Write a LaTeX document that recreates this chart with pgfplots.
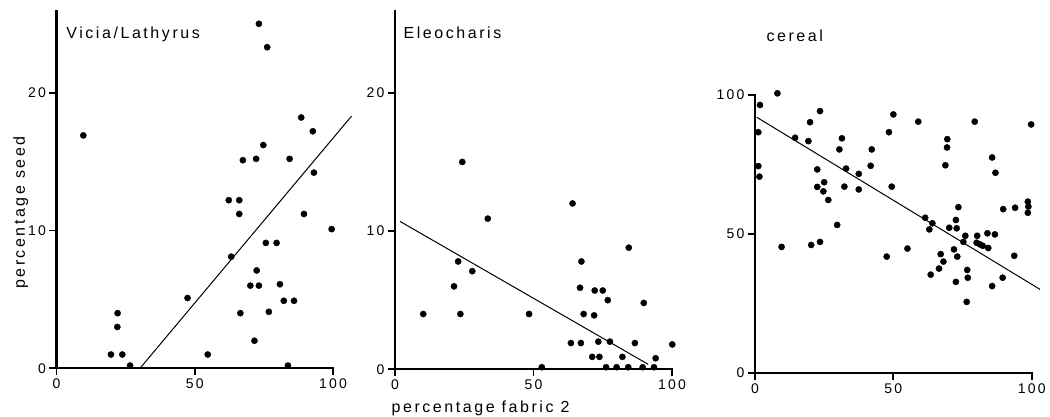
\documentclass[border=0pt]{standalone}
\usepackage{fontspec}
\setmainfont{Liberation Sans}[LetterSpace=16]
\usepackage{pgfplots}
\pgfplotsset{compat=1.18}
\tikzset{axframe/.style={black, line width=2.2pt, line cap=rect}}
\begin{document}
\begin{tikzpicture}
\useasboundingbox (0,0) rectangle (1050pt,417pt);
\pgfplotsset{
  myaxis/.style={
    scale only axis, axis lines=left,
    axis line style={-, line width=2pt, black},
    xmin=0, xmax=100, ymin=0, xtick={0,50,100},
    tick align=outside, major tick length=7pt,
    major tick style={black, line width=1.8pt},
    ticklabel style={font=\fontsize{14}{16}\selectfont},
    /pgf/number format/assume math mode=true,
    clip=false, anchor=south west,
  },
  dots/.style={only marks, mark=*, mark size=3.1pt, black, mark options={fill=black, draw=black}},
  fit/.style={black, line width=1pt},
}
% ---------- Vicia/Lathyrus ----------
\begin{axis}[myaxis, at={(56.5pt,48.7pt)}, width=276.5pt, height=356.9pt, ymax=25.9, ytick={0,10,20}]
\draw[axframe] (rel axis cs:0,1) -- (rel axis cs:0,0) -- (rel axis cs:1,0);
\addplot[dots] table {
x y
9.7 16.9
73.2 25.0
76.2 23.3
88.5 18.2
92.7 17.2
74.8 16.2
67.4 15.1
72.2 15.2
84.3 15.2
93.1 14.2
62.3 12.2
66.1 12.2
66.1 11.2
89.5 11.2
99.5 10.1
63.2 8.1
75.7 9.1
79.6 9.1
72.4 7.1
70.1 6.0
73.2 6.0
80.8 6.1
82.2 4.9
85.9 4.9
66.5 4.0
76.8 4.1
71.6 2.0
47.4 5.1
54.7 1.0
22.1 4.0
22.0 3.0
19.7 1.0
23.8 1.0
26.6 0.2
83.7 0.2
};
\addplot[fit] coordinates {(30.2,0) (106.7,18.3)};
\node[anchor=base west, font=\fontsize{16}{18}\selectfont] at (axis cs:2.3,23.9) {Vicia/Lathyrus};
\node[rotate=90, anchor=base, font=\fontsize{16}{18}\selectfont] at (axis cs:-11.4,11.3) {percentage seed};
\end{axis}
% ---------- Eleocharis ----------
\begin{axis}[myaxis, at={(395pt,47.7pt)}, width=277pt, height=358pt, ymax=25.9, ytick={0,10,20}]
\draw[axframe] (rel axis cs:0,1) -- (rel axis cs:0,0) -- (rel axis cs:1,0);
\addplot[dots] table {
x y
24.3 15.0
33.5 10.9
64.1 12.0
84.4 8.8
22.8 7.8
27.9 7.1
21.3 6.0
10.2 4.0
23.6 4.0
48.4 4.0
67.3 7.8
66.8 5.9
72.1 5.7
75.0 5.7
76.8 5.0
89.8 4.8
68.1 4.0
71.9 3.9
63.5 1.9
67.1 1.9
73.4 2.0
77.6 2.0
86.6 1.9
100.1 1.8
71.2 0.9
73.8 0.9
82.1 0.9
94.1 0.8
53.0 0.15
76.2 0.15
80.0 0.15
84.2 0.15
89.4 0.15
93.5 0.15
};
\addplot[fit] coordinates {(1.8,10.7) (91.4,0.36)};
\node[anchor=base west, font=\fontsize{16}{18}\selectfont] at (axis cs:1.8,23.9) {Eleocharis};
\node[anchor=base west, font=\fontsize{16}{18}\selectfont] at (axis cs:-2.5,-3.14) {percentage fabric 2};
\end{axis}
% ---------- cereal ----------
\begin{axis}[myaxis, at={(755pt,44.3pt)}, width=276.7pt, height=277.7pt, ymax=100, ytick={0,50,100}]
\draw[axframe] (rel axis cs:0,1) -- (rel axis cs:0,0) -- (rel axis cs:1,0);
\addplot[dots] table {
x y
8.1 100.6
1.8 96.4
1.2 86.6
1.2 74.4
1.6 70.6
9.6 45.3
14.5 84.6
19.9 90.2
19.3 83.4
23.5 94.2
22.5 73.2
22.5 66.9
25.0 68.6
24.7 65.3
26.5 62.2
20.3 46.0
23.5 47.1
29.7 53.2
31.4 84.4
30.5 80.4
32.9 73.5
32.3 67.0
37.5 71.6
37.5 66.0
42.2 80.4
41.8 74.5
48.4 86.6
50.0 93.0
49.4 67.0
47.6 41.8
55.1 44.7
59.0 90.4
61.5 55.8
64.1 53.8
63.0 51.6
63.5 35.3
67.1 42.7
66.5 37.5
68.1 40.0
69.5 84.1
69.4 81.1
68.8 74.7
73.5 59.6
72.6 55.0
70.2 52.2
72.9 52.0
71.9 44.4
73.1 41.8
72.6 32.7
76.0 49.3
75.3 47.1
76.7 37.0
76.9 34.2
76.5 25.5
79.4 90.4
80.3 49.3
80.1 46.8
81.3 46.2
82.3 45.7
84.3 44.9
84.0 50.2
86.7 49.8
85.7 77.5
86.9 72.0
85.7 31.2
89.7 58.9
89.5 34.2
94.0 59.4
93.7 42.1
98.6 61.6
98.8 59.8
98.6 57.6
99.8 89.4
};
\addplot[fit] coordinates {(0.6,92.0) (103,30.0)};
\node[anchor=base west, font=\fontsize{16}{18}\selectfont] at (axis cs:2.9,119.3) {cereal};
\end{axis}
\end{tikzpicture}
\end{document}
